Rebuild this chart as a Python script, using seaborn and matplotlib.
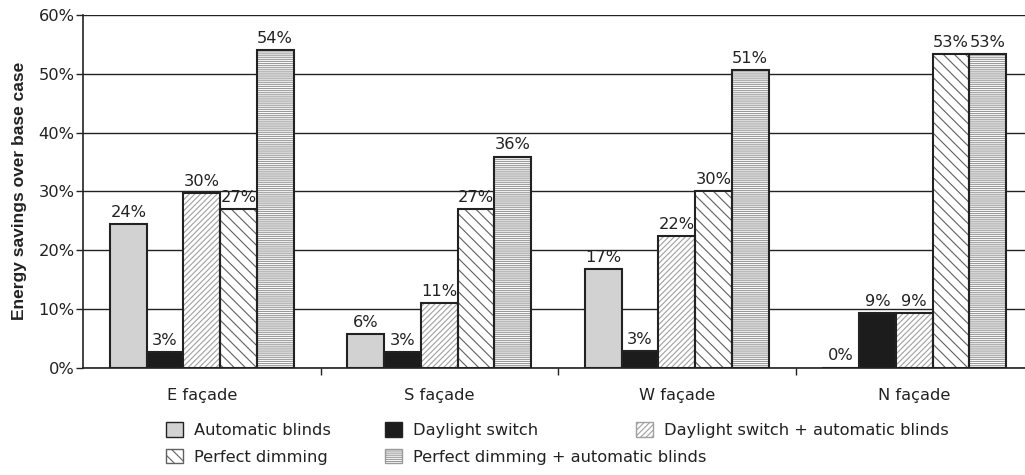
import numpy as np
import pandas as pd
import matplotlib
matplotlib.use("Agg")
import matplotlib.pyplot as plt
from matplotlib.patches import Patch, Rectangle
import seaborn as sns

# Facades and lighting-control strategies
facades = ["E façade", "S façade", "W façade", "N façade"]
strategies = [
    "Automatic blinds",
    "Daylight switch",
    "Daylight switch + automatic blinds",
    "Perfect dimming",
    "Perfect dimming + automatic blinds",
]

# Energy savings over base case (%), one list per strategy, ordered by facade
automatic_blinds = [24.4, 5.7, 16.7, 0.0]
daylight_switch = [2.6, 2.6, 2.8, 9.2]
daylight_switch_blinds = [29.7, 10.9, 22.4, 9.2]
perfect_dimming = [26.9, 26.9, 30.1, 53.3]
perfect_dimming_blinds = [54.0, 35.9, 50.7, 53.3]

yticks = [0, 10, 20, 30, 40, 50, 60]

series = [automatic_blinds, daylight_switch, daylight_switch_blinds,
          perfect_dimming, perfect_dimming_blinds]

df = pd.DataFrame(
    [(f, s, v) for s, vals in zip(strategies, series) for f, v in zip(facades, vals)],
    columns=["facade", "strategy", "saving"],
)

fills = ["#d2d2d2", "#1c1c1c", "white", "white", "white"]
hatches = [None, None, "//////", "\\\\\\", "--------"]
hatch_colors = ["#222222", "#222222", "#a0a0a0", "#606060", "#9a9a9a"]

sns.set_theme(style="white")
plt.rcParams["font.family"] = ["DejaVu Sans"]
plt.rcParams["hatch.linewidth"] = 0.8
text_color = "#222222"
fs = 11.7

fig = plt.figure(figsize=(10.25, 4.75), dpi=100)
ax = fig.add_axes([83 / 1025, 0.2263, 950 / 1025, 0.742])

sns.barplot(
    data=df, x="facade", y="saving", hue="strategy",
    order=facades, hue_order=strategies,
    palette=fills, width=0.773, saturation=1, legend=False,
    edgecolor="#222222", linewidth=1.2, ax=ax, zorder=3,
)

for i, cont in enumerate(ax.containers):
    for bar in cont:
        if hatches[i]:
            bar.set_hatch(hatches[i])
            bar.set_edgecolor(hatch_colors[i])
            bar.set_linewidth(0)
            # crisp dark outline on top of the hatched fill
            ax.add_patch(Rectangle(bar.get_xy(), bar.get_width(), bar.get_height(),
                                   fill=False, edgecolor="#222222", linewidth=1.5,
                                   zorder=4))
        else:
            bar.set_linewidth(1.5)
    ax.bar_label(cont, labels=[f"{v:.0f}%" for v in cont.datavalues],
                 padding=3, fontsize=fs, color=text_color)

ax.set_ylim(0, 60)
ax.set_xlim(-0.5, 3.5)
ax.set_yticks(yticks)
ax.set_yticklabels([f"{t}%" for t in yticks], fontsize=fs, color=text_color)
ax.set_xticks(range(len(facades)))
ax.set_xticklabels(facades, fontsize=fs, color=text_color)
ax.set_xticks([0.5, 1.5, 2.5], minor=True)
ax.tick_params(axis="x", which="major", length=0, pad=14.5)
ax.tick_params(axis="x", which="minor", length=5, width=1, color="#222222",
               direction="out", bottom=True)
ax.tick_params(axis="y", length=5, width=1, color="#222222", direction="out",
               left=True, pad=1)
ax.set_xlabel("")
ax.set_ylabel("Energy savings over base case", fontsize=12.5, fontweight="bold",
              family="Liberation Sans", color=text_color)
ax.yaxis.set_label_coords(-0.059, 0.5)

ax.yaxis.grid(True, color="#222222", linewidth=1.0, zorder=0)
ax.set_axisbelow(True)
for side in ["top", "right"]:
    ax.spines[side].set_visible(False)
for side in ["left", "bottom"]:
    ax.spines[side].set_color("#222222")
    ax.spines[side].set_linewidth(1.2)

handles = [
    Patch(facecolor=fills[i], edgecolor=hatch_colors[i] if hatches[i] else "#222222",
          hatch=hatches[i], linewidth=1.0, label=strategies[i])
    for i in range(len(strategies))
]

# legend laid out as three independent columns below the axes
legend_columns = [([0, 3], 166), ([1, 4], 385), ([2], 636)]
for idx, xpix in legend_columns:
    fig.legend(
        [handles[i] for i in idx], [strategies[i] for i in idx],
        loc="upper left", bbox_to_anchor=(xpix / 1025, 0.111),
        frameon=False, fontsize=fs, handlelength=1.05, handleheight=1.0,
        handletextpad=0.65, labelspacing=0.66, borderpad=0, borderaxespad=0,
        labelcolor=text_color,
    )

fig.savefig("out.png", dpi=100)
